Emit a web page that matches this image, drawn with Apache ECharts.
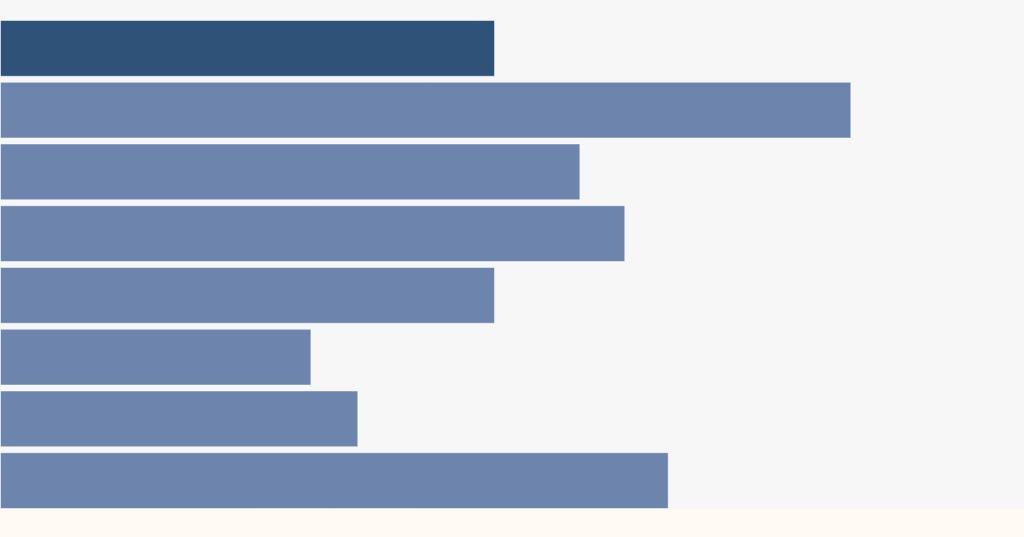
<!DOCTYPE html>
<html>
<head>
<meta charset="utf-8">
<script src="https://cdn.jsdelivr.net/npm/echarts@6/dist/echarts.min.js"></script>
<style>
html,body{margin:0;padding:0;background:#f7f7f7;}
#main{width:1024px;height:537px;}
</style>
</head>
<body>
<div id="main"></div>
<script>
const categories = ['A', 'B', 'C', 'D', 'E', 'F', 'G', 'H'];
const values = [496, 853, 581.5, 626.5, 496, 312, 359, 670];
const highlightIndex = 0;

const chart = echarts.init(document.getElementById('main'), null, {renderer: 'canvas'});
chart.setOption({
  backgroundColor: '#f7f7f7',
  animation: false,
  grid: {left: -2, right: 2, top: 17.5, bottom: 25.5, containLabel: false},
  xAxis: {type: 'value', min: 0, max: 1024, show: false},
  yAxis: {type: 'category', data: categories, inverse: true, show: false},
  series: [{
    type: 'bar',
    barCategoryGap: '8%',
    data: values.map((v, i) => ({
      value: v,
      itemStyle: {color: i === highlightIndex ? '#2f5279' : '#6d85ad'}
    })),
    itemStyle: {borderColor: 'rgba(255,255,255,0.5)', borderWidth: 1}
  }],
  graphic: [{
    type: 'rect',
    z: 100,
    left: 0,
    bottom: 0,
    shape: {width: 1024, height: 28},
    style: {fill: '#fffaf2'}
  }]
});
</script>
</body>
</html>
